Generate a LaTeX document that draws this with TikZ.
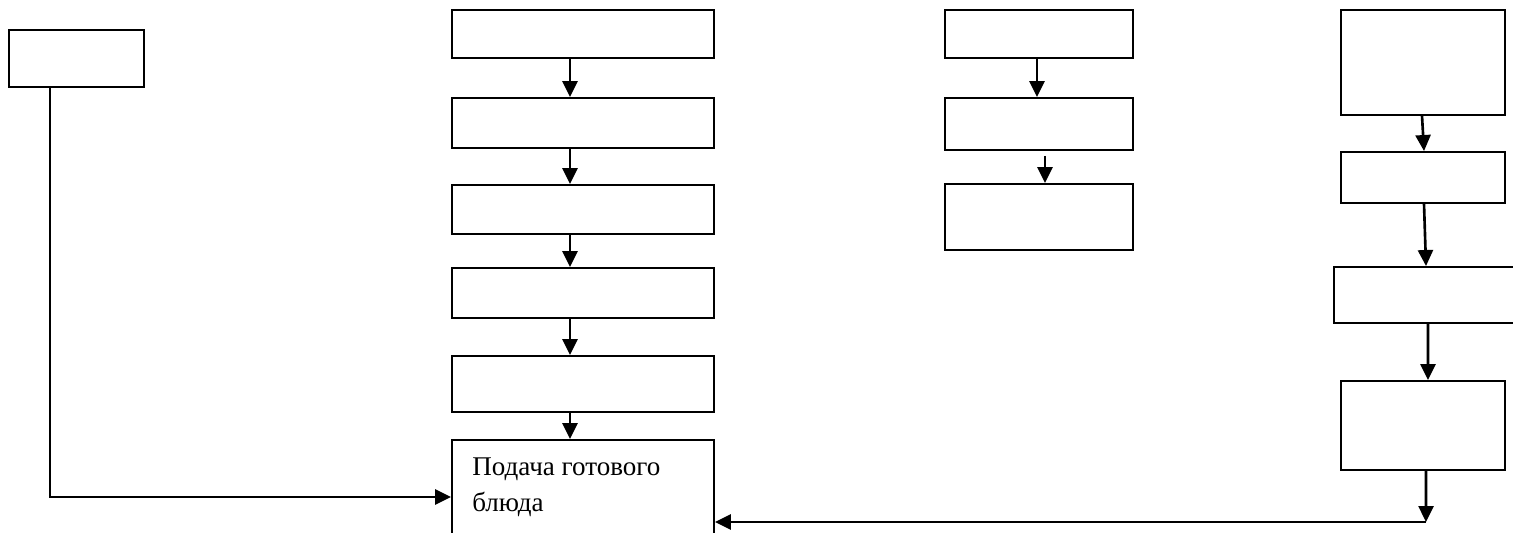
\documentclass[tikz,border=0pt]{standalone}
\usepackage{fontspec}
\setmainfont{Liberation Serif}
\usetikzlibrary{arrows.meta}

\begin{document}
\begin{tikzpicture}[x=0.02cm,y=-0.02cm,%
% common options for blocks:
block/.style = {draw, line width=1.1pt, inner sep=0},
% common options for the arrows:
arr/.style = {line width=1.5pt, -{Triangle[width=0.3cm,length=0.32cm]}}]
\useasboundingbox (0,0) rectangle (1513,533);
\clip (0,0) rectangle (1513,533);
\node[block,minimum width=2.7cm,minimum height=1.14cm] (L0) at (76.5,58.5) {};
\node[block,minimum width=5.24cm,minimum height=0.96cm] (B1) at (583,34) {};
\node[block,minimum width=5.24cm,minimum height=1.0cm] (B2) at (583,123) {};
\node[block,minimum width=5.24cm,minimum height=0.98cm] (B3) at (583,209.5) {};
\node[block,minimum width=5.24cm,minimum height=1.0cm] (B4) at (583,293) {};
\node[block,minimum width=5.24cm,minimum height=1.12cm] (B5) at (583,384) {};
\node[block,minimum width=5.24cm,minimum height=2.28cm] (B6) at (583,497) {};
\node[anchor=north west,inner sep=0,align=left,font=\fontsize{15.4}{20.5}\selectfont] (T6) at (472,457) {Подача готового\\блюда};
\node[block,minimum width=3.76cm,minimum height=0.96cm] (C1) at (1039,34) {};
\node[block,minimum width=3.76cm,minimum height=1.04cm] (C2) at (1039,124) {};
\node[block,minimum width=3.76cm,minimum height=1.32cm] (C3) at (1039,217) {};
\node[block,minimum width=3.28cm,minimum height=2.1cm] (D1) at (1423,62.5) {};
\node[block,minimum width=3.28cm,minimum height=1.02cm] (D2) at (1423,177.5) {};
\node[block,minimum width=4cm,minimum height=1.12cm] (D3) at (1434,295) {};
\node[block,minimum width=3.28cm,minimum height=1.78cm] (D4) at (1423,425.5) {};
\coordinate (c4) at (1426,522);
\draw[arr] ([xshift=-0.26cm]B1.south) -- ([xshift=-0.26cm]B2.north);
\draw[arr] ([xshift=-0.26cm]B2.south) -- ([xshift=-0.26cm]B3.north);
\draw[arr] ([xshift=-0.26cm]B3.south) -- ([xshift=-0.26cm]B4.north);
\draw[arr] ([xshift=-0.26cm]B4.south) -- ([xshift=-0.26cm]B5.north);
\draw[arr] ([xshift=-0.26cm]B5.south) -- ([xshift=-0.26cm]B6.north);
\draw[arr] ([xshift=-0.04cm]C1.south) -- ([xshift=-0.04cm]C2.north);
\draw[arr] ([shift={(0.12cm,-0.1cm)}]C2.south) -- ([xshift=0.12cm]C3.north);
\draw[arr] ([xshift=-0.02cm]D1.south) -- ([xshift=0.02cm]D2.north);
\draw[arr] ([xshift=0.02cm]D2.south) -- ([xshift=-0.16cm]D3.north);
\draw[arr] ([xshift=-0.12cm]D3.south) -- ([xshift=0.1cm]D4.north);
\draw[arr] ([xshift=0.06cm]D4.south) -- (c4);
\draw[arr] (c4) -- (c4 -| B6.east);
\draw[arr] ([xshift=-0.53cm]L0.south) |- (B6.west);
\end{tikzpicture}
\end{document}
